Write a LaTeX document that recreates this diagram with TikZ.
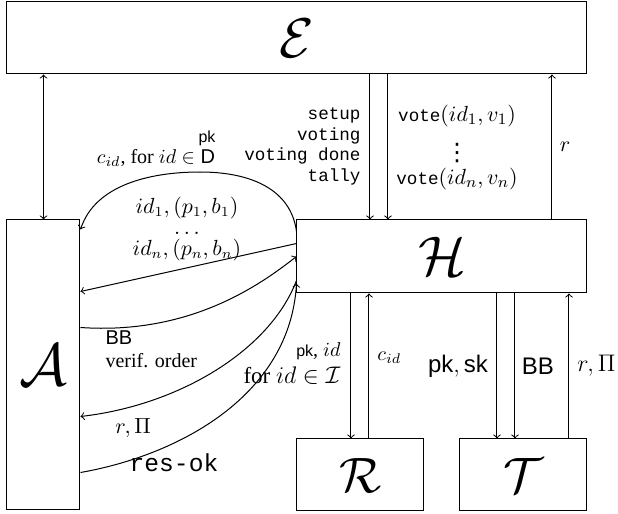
\documentclass[tikz,border=0pt]{standalone}
\usepackage{fontspec}
\setmainfont{Liberation Serif}
\setsansfont{Liberation Sans}
\setmonofont{Liberation Mono}
\newfontfamily\symfont{DejaVu Sans}
\newcommand{\fs}[1]{\fontsize{#1}{#1}\selectfont}
\newcommand{\bigcal}[2]{\scalebox{#1}{\Huge$\mathcal{#2}$}}
\begin{document}
\begin{tikzpicture}[x=0.5pt,y=-0.5pt,line width=0.5pt,>=to,
  box/.style={draw,inner sep=0pt},
  lbl/.style={inner sep=0pt}]
\useasboundingbox (0,0) rectangle (618,514);
% boxes
\node[box,minimum width=290pt,minimum height=36pt] (E) at (297,38) {\bigcal{1.125}{E}};
\node[box,minimum width=36.5pt,minimum height=145pt] (A) at (43.5,365) {\bigcal{1.2}{A}};
\node[box,minimum width=145pt,minimum height=36.5pt] (H) at (442,256.5) {\bigcal{1.125}{H}};
\node[box,minimum width=63.5pt,minimum height=36pt] (R) at (360.5,475) {\bigcal{1.0}{R}};
\node[box,minimum width=63.5pt,minimum height=36pt] (T) at (523.5,475) {\bigcal{1.0}{T}};
% x positions of vertical connectors
\coordinate (xeh1) at (370,0);
\coordinate (xeh2) at (388,0);
\coordinate (xhe) at (552,0);
\coordinate (xhr1) at (351,0);
\coordinate (xhr2) at (369,0);
\coordinate (xht1) at (497,0);
\coordinate (xht2) at (515,0);
\coordinate (xht3) at (569,0);
% vertical connectors
\draw[<->] (A.north |- E.south) -- (A.north);
\draw[->] (xeh1 |- E.south) -- (xeh1 |- H.north);
\draw[->] (xeh2 |- E.south) -- (xeh2 |- H.north);
\draw[->] (xhe |- H.north) -- (xhe |- E.south);
\draw[->] (xhr1 |- H.south) -- (xhr1 |- R.north);
\draw[->] (xhr2 |- R.north) -- (xhr2 |- H.south);
\draw[->] (xht1 |- H.south) -- (xht1 |- T.north);
\draw[->] (xht2 |- H.south) -- (xht2 |- T.north);
\draw[->] (xht3 |- T.north) -- (xht3 |- H.south);
% A <-> H connectors
\coordinate (arctop) at (200,172);
\draw[->] ([yshift=-6pt]H.north west) .. controls (291,190) and (252,172) .. (arctop)
  .. controls (150,172) and (95,185) .. ([yshift=-5pt]A.north east);
\draw[->] ([yshift=-12pt]H.north west) -- ([yshift=-36pt]A.north east);
\draw[->] ([yshift=-54pt]A.north east) .. controls (190,335) and (260,285) .. ([yshift=-18.5pt]H.north west);
\draw[->] ([yshift=-30.5pt]H.north west) .. controls (270,350) and (180,405) .. ([yshift=-98.5pt]A.north east);
\draw[->] ([yshift=-126.5pt]A.north east) .. controls (180,455) and (290,395) .. ([yshift=-32pt]H.north west);
% labels top
\node[lbl,font=\sffamily\fs{8}] (lpk) at (207,138) {pk};
\node[lbl,font=\fs{10}] (lcid) at (156,158) {$c_{id}$, for $id \in \mathsf{D}$};
\node[lbl,align=center,font={\fontsize{10.5}{10.6}\selectfont\lineskiplimit=-20pt}] (lid) at (187,229)
  {$id_1,(p_1,b_1)$\\$\ldots$\\$id_n,(p_n,b_n)$};
\node[lbl,anchor=east,align=right,font=\ttfamily\fontsize{8.8}{10.2}\selectfont] (lsetup) at (361,146.5) {setup\\voting\\voting done\\tally};
\node[lbl,font=\fs{11}] (lv1) at (457,116) {{\ttfamily\fs{8.8}vote}$(id_1,v_1)$};
\node[lbl,font=\symfont\fs{12}] (lvd) at (457,153) {⋮};
\node[lbl,font=\fs{11}] (lvn) at (457,179) {{\ttfamily\fs{8.8}vote}$(id_n,v_n)$};
\node[lbl,font=\fs{11}] (lr) at (565,147) {$r$};
% labels left
\node[lbl,anchor=west,font=\sffamily\fs{10}] (lbb) at (105,338) {BB};
\node[lbl,anchor=west,font=\fs{10}] (lvo) at (105,361) {verif. order};
\node[lbl,font=\fs{11}] (lrp) at (133,428) {$r,\Pi$};
\node[lbl,font=\ttfamily\fs{12.3}] (lres) at (174,463) {res-ok};
\node[lbl,anchor=east,font=\fs{10}] (lpkid) at (341,351) {{\sffamily\fs{8}pk}, $id$};
\node[lbl,anchor=east,font=\fs{11.5}] (lfor) at (341,376) {for $id \in \mathcal{I}$};
% labels bottom
\node[lbl,anchor=west,font=\fs{10}] (lcid2) at (377,358) {$c_{id}$};
\node[lbl,font=\fs{12}] (lpksk) at (458,366) {$\mathsf{pk},\mathsf{sk}$};
\node[lbl,font=\sffamily\fs{12}] (lbb2) at (538,366) {BB};
\node[lbl,anchor=west,font=\fs{12}] (lrp2) at (577,366) {$r,\Pi$};
\end{tikzpicture}
\end{document}
